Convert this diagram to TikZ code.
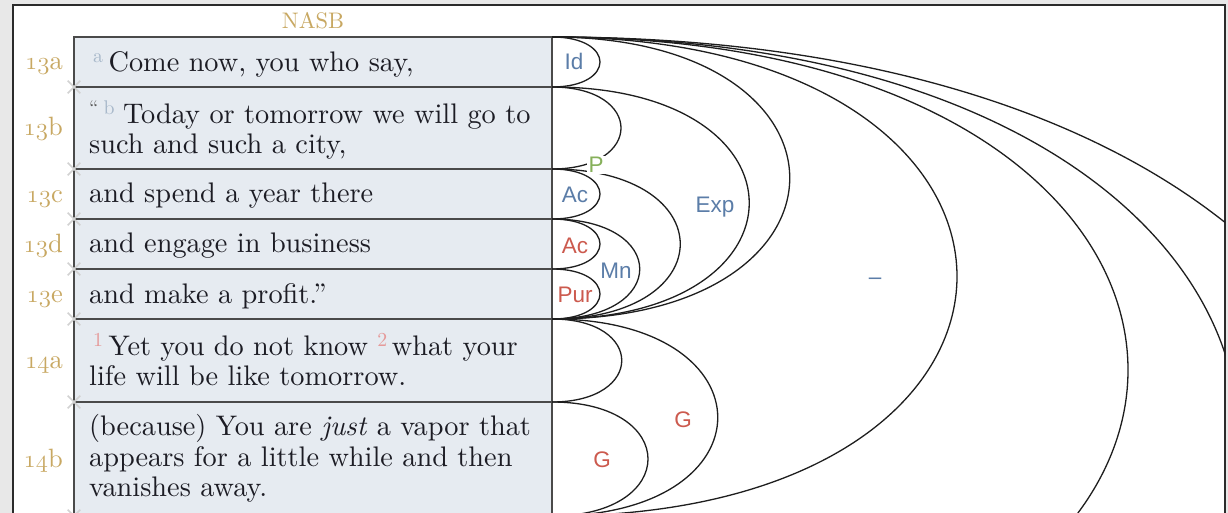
\documentclass[tikz,border=0pt]{standalone}
\usepackage{fontspec}
\setmainfont{lmroman10-regular.otf}[ItalicFont=lmroman10-italic.otf, BoldFont=lmroman10-bold.otf]
\usepackage{tikz}
\usetikzlibrary{positioning}
\usetikzlibrary{shapes.misc}

\newfontfamily\relfont{Liberation Sans}
\newcommand{\osf}[1]{{\usefont{OML}{lmm}{m}{it}#1}}

\definecolor{pagegray}{HTML}{E8E8E8}
\definecolor{framecol}{HTML}{2B2B2B}
\definecolor{cellfill}{HTML}{E6EBF1}
\definecolor{gridcol}{HTML}{4A4A4A}
\definecolor{versegold}{HTML}{C8A862}
\definecolor{textcol}{HTML}{1C1C24}
\definecolor{supblue}{HTML}{A8B8CA}
\definecolor{supred}{HTML}{E59A9A}
\definecolor{qgray}{HTML}{5A5A5A}
\definecolor{relblue}{HTML}{5B7DA8}
\definecolor{relred}{HTML}{CC5A4E}
\definecolor{relgreen}{HTML}{86B05A}
\definecolor{arccol}{HTML}{1E1E1E}

\begin{document}
\begin{tikzpicture}[x=1pt, y=-1pt,
	verse/.style={anchor=west, inner sep=0pt, align=left, text=textcol, font=\fontsize{28.3}{30.5}\selectfont},
	vnum/.style={anchor=base east, inner sep=0pt, text=versegold, font=\fontsize{26.5}{28}\selectfont},
	rel/.style={anchor=base, inner sep=1pt, font=\relfont\fontsize{22.5}{24}\selectfont},
	arcline/.style={draw=arccol, line width=1.3pt},
	gridline/.style={draw=gridcol, line width=1.4pt},
	xmark/.style={cross out, draw=gray!35, line width=1.6pt, minimum size=11pt, inner sep=0pt}]
				\useasboundingbox (0,0) rectangle (1228,513);
				\clip (0,0) rectangle (1228,513);
				\fill[pagegray] (0,0) rectangle (1228,513);
				\filldraw[fill=white, draw=framecol, line width=2pt] (13,5) rectangle (1225,540);
				
				% row corners, left and right side of the text column
				\coordinate (l0) at (74,37);
				\coordinate (l1) at (74,87);
				\coordinate (l2) at (74,169);
				\coordinate (l3) at (74,219);
				\coordinate (l4) at (74,269);
				\coordinate (l5) at (74,319);
				\coordinate (l6) at (74,402);
				\coordinate (l7) at (74,516);
				\coordinate (r0) at (552,37);
				\coordinate (r1) at (552,87);
				\coordinate (r2) at (552,169);
				\coordinate (r3) at (552,219);
				\coordinate (r4) at (552,269);
				\coordinate (r5) at (552,319);
				\coordinate (r6) at (552,402);
				\coordinate (r7) at (552,516);
				\coordinate (r8) at (552,703);
				\coordinate (r9) at (552,841);
				\coordinate (r10) at (552,1017);
				
				\filldraw[fill=cellfill, gridline] (l0) rectangle (r7);
				\draw[gridline] (l1) -- (r1);
				\draw[gridline] (l2) -- (r2);
				\draw[gridline] (l3) -- (r3);
				\draw[gridline] (l4) -- (r4);
				\draw[gridline] (l5) -- (r5);
				\draw[gridline] (l6) -- (r6);
				\draw[gridcol, line width=2pt] (r0) -- (r7);
				
				\node[xmark] (x1) at (l1) {};
				\node[xmark] (x2) at (l2) {};
				\node[xmark] (x3) at (l3) {};
				\node[xmark] (x4) at (l4) {};
				\node[xmark] (x5) at (l5) {};
				\node[xmark] (x6) at (l6) {};
				\node[xmark] (x7) at (l7) {};
				
				\node[anchor=base, inner sep=0pt, text=versegold, font=\fontsize{22.5}{24}\selectfont] (nasb) at (313,29) {NASB};
				
				\node[vnum] (n13a) at (63,70) {\osf{13}a};
				\node[vnum] (n13b) at (63,136) {\osf{13}b};
				\node[vnum] (n13c) at (63,202) {\osf{13}c};
				\node[vnum] (n13d) at (63,252) {\osf{13}d};
				\node[vnum] (n13e) at (63,302) {\osf{13}e};
				\node[vnum] (n14a) at (63,368.5) {\osf{14}a};
				\node[vnum] (n14b) at (63,467) {\osf{14}b};
				
				\node[verse] (v13a) at (89,64) {\hspace*{4pt}\textsuperscript{\color{supblue}a}\hspace{5pt}Come now, you who say,};
				\node[verse] (v13b) at (89,130) {\textsuperscript{\color{qgray}``\hspace{5pt}\color{supblue}b}\hspace{8pt}Today or tomorrow we will go to\\such and such a city,};
				\node[verse] (v13c) at (89,196) {and spend a year there};
				\node[verse] (v13d) at (89,246) {and engage in business};
				\node[verse] (v13e) at (89,296) {and make a profit.''};
				\node[verse] (v14a) at (89,359.5) {\hspace*{4pt}\textsuperscript{\color{supred}1}\hspace{5pt}Yet you do not know \textsuperscript{\color{supred}2}\hspace{4pt}what your\\life will be like tomorrow.};
				\node[verse] (v14b) at (89,458.5) {(because) You are \textit{just} a vapor that\\appears for a little while and then\\vanishes away.};
				
				\begin{scope}
					\clip (13,5) rectangle (1225,540);
					\draw[arcline] (r0) .. controls +(64,0) and +(64,0) .. (r1);
					\draw[arcline] (r1) .. controls +(92,0) and +(92,0) .. (r2);
					\draw[arcline] (r2) .. controls +(64,0) and +(64,0) .. (r3);
					\draw[arcline] (r3) .. controls +(64,0) and +(64,0) .. (r4);
					\draw[arcline] (r4) .. controls +(64,0) and +(64,0) .. (r5);
					\draw[arcline] (r3) .. controls +(117,0) and +(117,0) .. (r5);
					\draw[arcline] (r2) .. controls +(171,0) and +(171,0) .. (r5);
					\draw[arcline] (r1) .. controls +(263,0) and +(263,0) .. (r5);
					\draw[arcline] (r0) .. controls +(317,0) and +(317,0) .. (r5);
					\draw[arcline] (r5) .. controls +(93,0) and +(93,0) .. (r6);
					\draw[arcline] (r6) .. controls +(128,0) and +(128,0) .. (r7);
					\draw[arcline] (r5) .. controls +(221,0) and +(221,0) .. (r7);
					\draw[arcline] (r0) .. controls +(540,0) and +(540,0) .. (r7);
					\draw[arcline] (r0) .. controls +(768,0) and +(768,0) .. (r8);
					\draw[arcline] (r0) .. controls +(916,0) and +(916,0) .. (r9);
					\draw[arcline] (r0) .. controls +(1117,0) and +(1117,0) .. (r10);
				\end{scope}
				
				\node[rel, text=relblue] (id) at (574,70) {Id};
				\node[rel, text=relgreen, fill=white, inner sep=1.5pt] (prog) at (596,173) {P};
				\node[rel, text=relblue] (ac1) at (575,203) {Ac};
				\node[rel, text=relblue] (exp) at (715,212) {Exp};
				\node[rel, text=relred] (ac2) at (575,253) {Ac};
				\node[rel, text=relblue] (mn) at (616,278) {Mn};
				\node[rel, text=relred] (pur) at (575,302) {Pur};
				\node[rel, text=relblue] (dash) at (875,284) {–};
				\node[rel, text=relred] (g1) at (683,427) {G};
				\node[rel, text=relred] (g2) at (602,467) {G};
			\end{tikzpicture}
\end{document}
